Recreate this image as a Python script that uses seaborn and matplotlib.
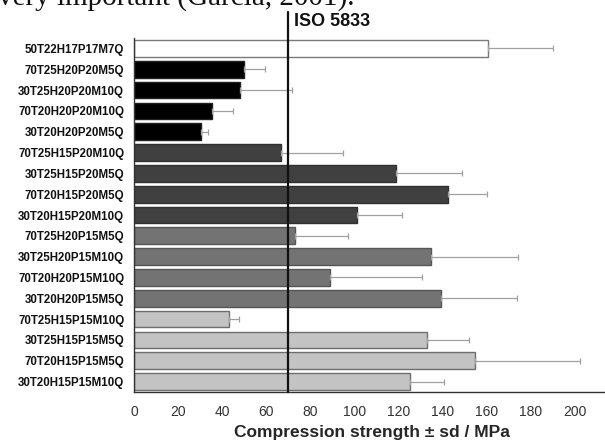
import matplotlib
matplotlib.use("Agg")
import matplotlib.pyplot as plt
import seaborn as sns
import pandas as pd
import numpy as np
from matplotlib.ticker import MultipleLocator, FixedLocator

sns.set_style("white")
plt.rcParams['font.family'] = ['Liberation Sans Narrow', 'Liberation Sans', 'DejaVu Sans']

labels = ["50T22H17P17M7Q", "70T25H20P20M5Q", "30T25H20P20M10Q", "70T20H20P20M10Q",
          "30T20H20P20M5Q", "70T25H15P20M10Q", "30T25H15P20M5Q", "70T20H15P20M5Q",
          "30T20H15P20M10Q", "70T25H20P15M5Q", "30T25H20P15M10Q", "70T20H20P15M10Q",
          "30T20H20P15M5Q", "70T25H15P15M10Q", "30T25H15P15M5Q", "70T20H15P15M5Q",
          "30T20H15P15M10Q"]
strength = [160.5, 50, 48, 35.5, 30.5, 66.7, 118.7, 142.2, 101.1, 73, 134.5, 89,
            139, 43, 132.9, 154.8, 125.2]
sd = [29.5, 9.5, 23.7, 9.5, 3, 28, 30, 17.7, 20.3, 24, 39.7, 41.8, 34.5, 4.5, 19,
      47.5, 15.6]
groups = ["ref", "g1", "g1", "g1", "g1", "g2", "g2", "g2", "g2", "g3", "g3", "g3",
          "g3", "g4", "g4", "g4", "g4"]
group_colors = {"ref": "#ffffff", "g1": "#000000", "g2": "#404040",
                "g3": "#737373", "g4": "#c3c3c3"}
group_edges = {"ref": "#7a7a7a", "g1": "#202020", "g2": "#303030",
               "g3": "#555555", "g4": "#6e6e6e"}
iso_value = 70
iso_label = "ISO 5833"
x_label = "Compression strength \u00b1 sd / MPa"
x_ticks = [0, 20, 40, 60, 80, 100, 120, 140, 160, 180, 200]
header_text = "very important (García, 2001)."

df = pd.DataFrame({"label": labels, "strength": strength, "sd": sd, "group": groups})

W, H = 605, 443
fig = plt.figure(figsize=(W / 100, H / 100), dpi=100)
ax = fig.add_axes([134 / W, 51 / H, 471 / W, 354 / H])

sns.barplot(data=df, x="strength", y="label", hue="group", palette=group_colors,
            dodge=False, legend=False, width=0.8, orient="h", ax=ax,
            linewidth=1.0, errorbar=None)
for patch, g in zip(sorted(ax.patches, key=lambda p: p.get_y()), groups):
    patch.set_edgecolor(group_edges[g])

ypos = np.arange(len(labels))
ax.errorbar(df["strength"], ypos, xerr=[np.zeros(len(sd)), df["sd"]], fmt="none",
            ecolor="#a0a0a0", elinewidth=0.9, capsize=2.5, capthick=0.9, zorder=1)

ax.set_xlim(0, 213.6)
ax.set_ylim(len(labels) - 0.5, -0.5)

ax.axvline(iso_value, ymin=0, ymax=(392 - 12) / 354, color="#111111", lw=1.6,
           clip_on=False, zorder=5)
fig.text(294 / W, 1 - 26.5 / H, iso_label, fontsize=13, fontweight="bold",
         family=["Liberation Sans"], va="baseline", ha="left", color="#111111")

ax.set_xticks(x_ticks)
ax.xaxis.set_minor_locator(MultipleLocator(5))
ax.set_xticklabels([str(t) for t in x_ticks], fontsize=10, color="#333333",
                   family=["Liberation Sans"])
ax.tick_params(axis="x", which="major", direction="out", length=4, width=1,
               color="#333333", pad=5)
ax.tick_params(axis="x", which="minor", direction="out", length=2.5, width=0.9,
               color="#333333")

ax.set_yticks(ypos)
ax.set_yticklabels(labels, fontsize=8.3, fontweight="bold", color="#111111")
ax.yaxis.set_minor_locator(FixedLocator(np.arange(-0.5, len(labels), 1.0)))
ax.tick_params(axis="y", which="major", length=0, pad=7)
ax.tick_params(axis="y", which="minor", direction="out", length=3, width=1,
               color="#333333")

ax.set_xlabel(x_label, fontsize=12.5, fontweight="bold",
              family=["Liberation Sans"])
ax.xaxis.set_label_coords((372 - 134) / 471, -(432 - 392) / 354)
ax.xaxis.label.set_verticalalignment("center")
ax.set_ylabel("")

for s in ["top", "right"]:
    ax.spines[s].set_visible(False)
for s in ["left", "bottom"]:
    ax.spines[s].set_color("#333333")
    ax.spines[s].set_linewidth(1.0)

fig.text(-0.004, 1 - 5 / H, header_text, fontsize=21,
         family=["Liberation Serif"], ha="left", va="baseline", color="#111111")

fig.savefig("out.png", dpi=100)
